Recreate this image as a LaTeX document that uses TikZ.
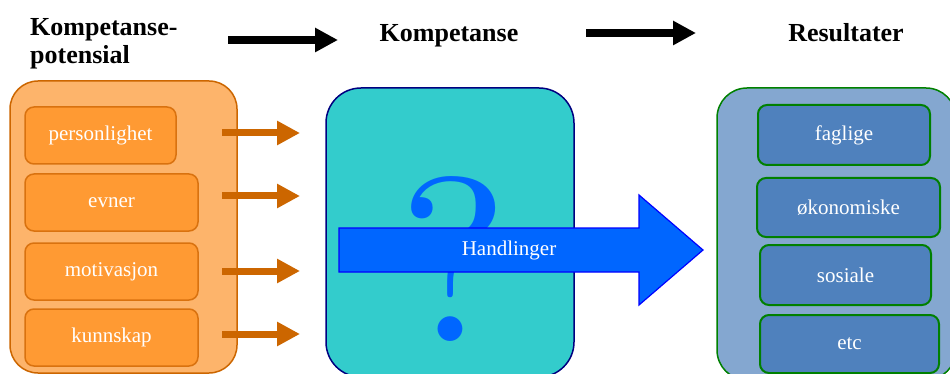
\documentclass[tikz,border=0pt]{standalone}
\usepackage{fontspec}
\setmainfont{Liberation Serif}
\newfontfamily\qfont{lmroman10-regular}[Extension=.otf]
\usetikzlibrary{arrows.meta}
\definecolor{obig}{HTML}{FDB46B}
\definecolor{oline}{HTML}{CC6600}
\definecolor{obox}{HTML}{FF9A33}
\definecolor{oboxline}{HTML}{D9720F}
\definecolor{cyanbox}{HTML}{33CCCC}
\definecolor{navyline}{HTML}{000080}
\definecolor{qblue}{HTML}{0066FF}
\definecolor{arrline}{HTML}{0000FF}
\definecolor{bbig}{HTML}{84A7D0}
\definecolor{gline}{HTML}{008000}
\definecolor{bbox}{HTML}{4F81BD}
\begin{document}
\begin{tikzpicture}[x=1pt,y=-1pt,
  title/.style={font=\fontsize{26}{29}\selectfont\bfseries, inner sep=0pt},
  lbl/.style={font=\fontsize{21}{24}\selectfont, text=white},
  obx/.style={lbl, draw=oboxline, fill=obox, line width=1.5pt, rounded corners=9pt, minimum height=57pt},
  bbx/.style={lbl, draw=gline, fill=bbox, line width=2pt, rounded corners=9pt},
  oarrow/.style={draw=oline, line width=7pt, -{Triangle[length=23pt,width=23pt]}},
  karrow/.style={draw=black, line width=8pt, -{Triangle[length=23pt,width=23pt]}}
]
\useasboundingbox (0,0) rectangle (950,374);
\clip (0,0) rectangle (950,374);

% titles
\node[title, anchor=base west] (t1a) at (30,36) {Kompetanse-};
\node[title, anchor=base west] (t1b) at (30,64) {potensial};
\node[title, anchor=base] (t2) at (449,42) {Kompetanse};
\node[title, anchor=base] (t3) at (846,42) {Resultater};
\coordinate (k1s) at (228,40); \coordinate (k1e) at (338,40);
\coordinate (k2s) at (586,33); \coordinate (k2e) at (696,33);
\draw[karrow] (k1s) -- (k1e);
\draw[karrow] (k2s) -- (k2e);

% left group
\draw[draw=oline, fill=obig, line width=1.5pt, rounded corners=28pt] (10,81) rectangle (237,373);
\node[obx, minimum width=151pt] (p1) at (100.5,135.5) {personlighet};
\node[obx, minimum width=173pt] (p2) at (111.5,202.5) {evner};
\node[obx, minimum width=173pt] (p3) at (111.5,271.5) {motivasjon};
\node[obx, minimum width=173pt] (p4) at (111.5,337.5) {kunnskap};
\foreach \i/\y in {1/133,2/196,3/271,4/334}{
  \coordinate (os\i) at (222,\y);
  \coordinate (oe\i) at (300,\y);
  \draw[oarrow] (os\i) -- (oe\i);
}

% middle
\draw[draw=navyline, fill=cyanbox, line width=1.5pt, rounded corners=35pt] (326,88) rectangle (574,377);
\node[anchor=base, text=qblue, inner sep=0pt, font=\qfont\fontsize{234}{234}\selectfont] (q) at (454,341) {?};
\draw[draw=arrline, fill=qblue, line width=1.2pt] (339,228) -- (639,228) -- (639,195) -- (703,250) -- (639,305) -- (639,272) -- (339,272) -- cycle;
\node[lbl] (h) at (509,250) {Handlinger};

% right group
\draw[draw=gline, fill=bbig, line width=1.5pt, rounded corners=30pt] (717,88) rectangle (956,380);
\node[bbx, minimum width=172pt, minimum height=60pt] (r1) at (844,135) {faglige};
\node[bbx, minimum width=183pt, minimum height=59pt] (r2) at (848.5,207.5) {økonomiske};
\node[bbx, minimum width=171pt, minimum height=60pt] (r3) at (845.5,275) {sosiale};
\node[bbx, minimum width=179pt, minimum height=58pt] (r4) at (849.5,344) {etc};
\end{tikzpicture}
\end{document}
